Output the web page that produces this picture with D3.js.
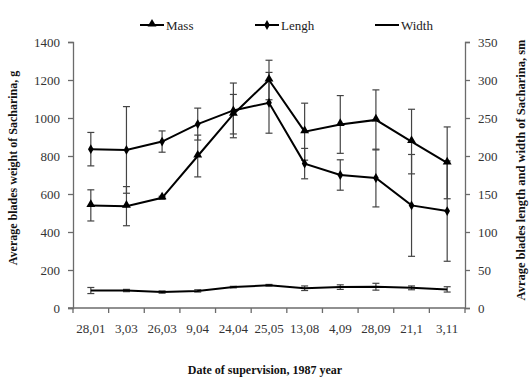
<!DOCTYPE html>
<html><head><meta charset="utf-8">
<script src="https://cdn.jsdelivr.net/npm/d3@7"></script>
<style>body{margin:0;background:#fff}svg{display:block}svg text{font-family:"Liberation Serif","Times New Roman",serif !important}</style>
</head><body>
<svg id="c" width="529" height="381"></svg>
<script>
const categories = ["28,01","3,03","26,03","9,04","24,04","25,05","13,08","4,09","28,09","21,1","3,11"];
const massValues = [540, 536, 580, 800, 1020, 1200, 928, 966, 990, 876, 764];
const massErrors = [82, 103, 8, 110, 104, 104, 150, 152, 158, 170, 189];
const lengthValues = [209, 208, 219, 242, 260, 270, 190, 175, 171, 135, 127.5];
const lengthErrors = [22, 57, 14, 21, 36, 40, 20, 20, 38, 67, 66];
const widthValues = [23, 23, 21, 22.5, 27.5, 30, 26, 27.5, 28, 26.5, 24.5];
const widthErrors = [4, 1.5, 1.5, 1.5, 1, 1, 3, 3, 4.5, 2.5, 3.5];
const leftTicks = [0,200,400,600,800,1000,1200,1400];
const rightTicks = [0,50,100,150,200,250,300,350];
const seriesNames = ["Mass","Lengh","Width"];

const FONT = "Liberation Serif";
const svg = d3.select("#c");
const x = d3.scaleBand().domain(categories).range([73,465]).padding(0);
const yL = d3.scaleLinear().domain([0,1400]).range([308,42]);
const yR = d3.scaleLinear().domain([0,350]).range([308,42]);
const axisColor = "#6b6b6b";
const cx = c => x(c) + x.bandwidth()/2;

const gL = svg.append("g").attr("transform","translate(73,0)")
  .call(d3.axisLeft(yL).tickValues(leftTicks).tickSize(5).tickPadding(8).tickFormat(d3.format("d")));
const gR = svg.append("g").attr("transform","translate(465,0)")
  .call(d3.axisRight(yR).tickValues(rightTicks).tickSize(5).tickPadding(8).tickFormat(d3.format("d")));
[gL,gR].forEach(g=>{
  g.attr("font-family",FONT).attr("font-size",13);
  g.select(".domain").attr("stroke",axisColor).attr("stroke-width",1.3);
  g.selectAll(".tick line").attr("stroke",axisColor).attr("stroke-width",1.3);
  g.selectAll(".tick text").attr("fill","#333").attr("font-family",FONT);
});

const gX = svg.append("g").attr("font-family",FONT);
gX.append("line").attr("x1",68).attr("x2",465).attr("y1",yL(0)).attr("y2",yL(0)).attr("stroke",axisColor).attr("stroke-width",1.3);
const bounds = categories.map(c=>x(c)).concat([x.range()[1]]);
gX.selectAll("line.tk").data(bounds).join("line").attr("class","tk")
  .attr("x1",d=>d).attr("x2",d=>d).attr("y1",yL(0)).attr("y2",yL(0)+5)
  .attr("stroke",axisColor).attr("stroke-width",1.3);
gX.selectAll("text").data(categories).join("text")
  .attr("x",d=>cx(d)).attr("y",333).attr("text-anchor","middle")
  .attr("fill","#333").attr("font-size",13).text(d=>d);

svg.append("text").attr("x",265).attr("y",374).attr("text-anchor","middle")
  .attr("font-family",FONT).attr("font-weight","bold").attr("font-size",12).attr("fill","#111")
  .text("Date of supervision, 1987 year");
svg.append("text").attr("transform","translate(17,168) rotate(-90)").attr("text-anchor","middle")
  .attr("font-family",FONT).attr("font-weight","bold").attr("font-size",12).attr("fill","#111")
  .text("Average blades weight of Sacharina, g");
svg.append("text").attr("transform","translate(525,170) rotate(-90)").attr("text-anchor","middle")
  .attr("font-family",FONT).attr("font-weight","bold").attr("font-size",12.5).attr("fill","#111")
  .text("Avrage blades length and width of Sacharina, sm");

function errBars(vals, errs, y){
  const g = svg.append("g").attr("stroke","#444").attr("stroke-width",1.2);
  categories.forEach((c,i)=>{
    const xc = cx(c), t = y(vals[i]+errs[i]), b = y(vals[i]-errs[i]);
    g.append("line").attr("x1",xc).attr("x2",xc).attr("y1",t).attr("y2",b);
    g.append("line").attr("x1",xc-3.5).attr("x2",xc+3.5).attr("y1",t).attr("y2",t);
    g.append("line").attr("x1",xc-3.5).attr("x2",xc+3.5).attr("y1",b).attr("y2",b);
  });
}
errBars(widthValues, widthErrors, yR);
errBars(lengthValues, lengthErrors, yR);
errBars(massValues, massErrors, yL);

function drawLine(vals, y){
  const line = d3.line().x((d,i)=>cx(categories[i])).y(d=>y(d));
  svg.append("path").datum(vals).attr("d",line).attr("fill","none").attr("stroke","#000").attr("stroke-width",2);
}
drawLine(widthValues, yR);
drawLine(lengthValues, yR);
drawLine(massValues, yL);

const tri = d3.symbol().type(d3.symbolTriangle).size(34);
const dia = d3.symbol().type(d3.symbolDiamond).size(28);
svg.append("g").selectAll("path").data(massValues).join("path")
  .attr("d",tri).attr("transform",(d,i)=>`translate(${cx(categories[i])},${yL(d)-1})`).attr("fill","#000");
svg.append("g").selectAll("path").data(lengthValues).join("path")
  .attr("d",dia).attr("transform",(d,i)=>`translate(${cx(categories[i])},${yR(d)})`).attr("fill","#000");

const legX = [140, 255, 375];
const legend = svg.append("g").attr("font-family",FONT);
seriesNames.forEach((n,i)=>{
  const lx = legX[i], ly = 25;
  legend.append("line").attr("x1",lx).attr("x2",lx+24).attr("y1",ly).attr("y2",ly).attr("stroke","#000").attr("stroke-width",2);
  if(i===0) legend.append("path").attr("d",tri).attr("transform",`translate(${lx+12},${ly-1})`).attr("fill","#000");
  if(i===1) legend.append("path").attr("d",dia).attr("transform",`translate(${lx+12},${ly})`).attr("fill","#000");
  legend.append("text").attr("x",lx+26).attr("y",ly+4.5).attr("font-size",13).attr("fill","#222").text(n);
});
</script>
</body></html>
